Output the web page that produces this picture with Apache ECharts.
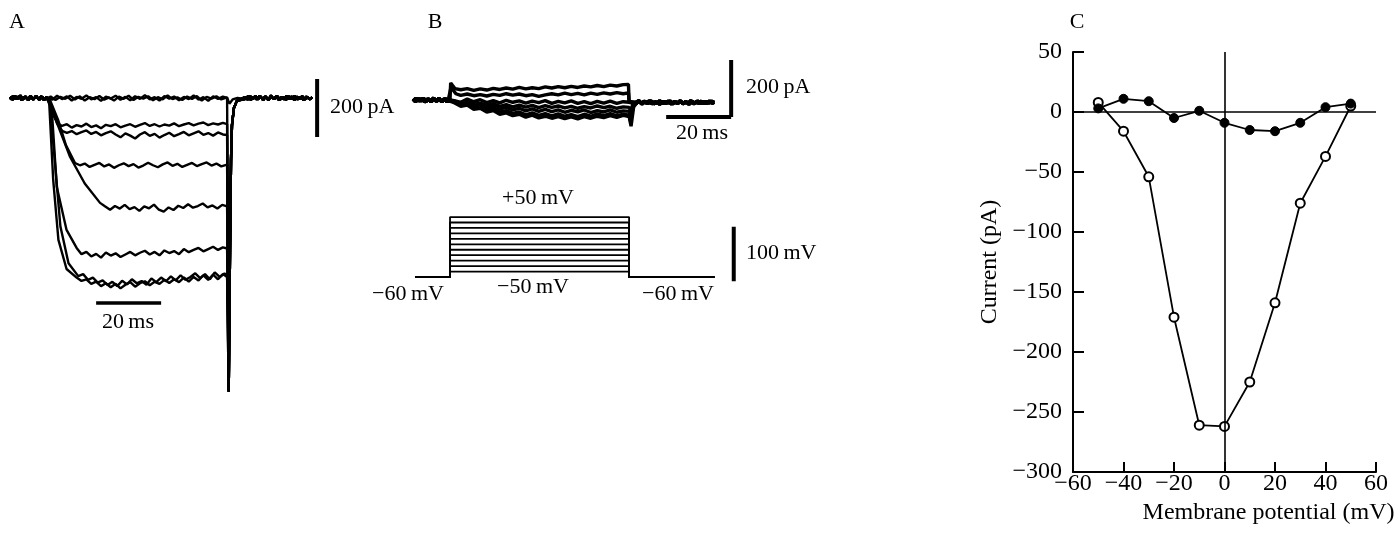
<!DOCTYPE html>
<html>
<head>
<meta charset="utf-8">
<script src="https://cdn.jsdelivr.net/npm/echarts@6/dist/echarts.min.js"></script>
<style>
html,body{margin:0;padding:0;background:#fff;}
#chart{width:1400px;height:536px;}
</style>
</head>
<body>
<div id="chart"></div>
<script>
// ---------------- DATA ----------------
// Panel C: I-V relation (membrane potential mV, current pA)
var ivPotentials = [-50, -40, -30, -20, -10, 0, 10, 20, 30, 40, 50];
var ivOpen   = [8, -16, -54, -171, -261, -262, -225, -159, -76, -37, 5];
var ivFilled = [3, 11, 9, -5, 1, -9, -15, -16, -9, 4, 7];

// Panel A: current traces [time ms, current pA]
var aBasePre1 = [[0,4],[0.8,-6],[1.6,7],[2.4,-3],[3.2,9],[4,-5],[4.8,6],[5.6,-8],[6.4,3],[7.2,-6],[8,8],[8.8,-4],[9.6,6],[10.4,-7],[11.2,3],[11.7,0]];
var aBasePre2 = [[0,-5],[0.9,7],[1.8,-4],[2.7,6],[3.6,-8],[4.5,4],[5.4,-5],[6.3,8],[7.2,-3],[8.1,6],[9,-7],[9.9,4],[10.8,-5],[11.7,0]];
var aBasePost1 = [[72.3,3],[73.1,-6],[73.9,7],[74.7,-4],[75.5,8],[76.3,-5],[77.1,6],[77.9,-8],[78.7,4],[79.5,-6],[80.3,9],[81.1,-3],[81.9,6],[82.7,-7],[83.5,4],[84.3,-5],[85.1,8],[85.9,-4],[86.7,6],[87.5,-8],[88.3,5],[89.1,-4],[89.9,7],[90.7,-6],[91.5,4],[92.3,-5],[93,3]];
var aBasePost2 = [[72.3,-4],[73.2,6],[74.1,-7],[75,4],[75.9,-5],[76.8,8],[77.7,-3],[78.6,6],[79.5,-8],[80.4,5],[81.3,-4],[82.2,7],[83.1,-6],[84,3],[84.9,-7],[85.8,6],[86.7,-3],[87.6,8],[88.5,-5],[89.4,4],[90.3,-7],[91.2,5],[92.1,-4],[93,2]];
var aTail = [[67.3,-1030],[67.7,-530],[68.0,-220],[68.3,-95],[68.9,-35],[69.8,-10]];
var aTrace1 = [[13,-6],[14.5,8],[16,-4],[17.5,6],[19,-9],[20.5,4],[22,-3],[23.5,9],[25,-5],[26.5,3],[28,-10],[29.5,5],[31,-2],[32.5,8],[34,-6],[35.5,4],[37,-8],[38.5,6],[40,-3],[41.5,10],[43,-5],[44.5,3],[46,-9],[47.5,7],[49,-2],[50.5,5],[52,-8],[53.5,4],[55,-4],[56.5,9],[58,-6],[59.5,3],[61,-10],[62.5,6],[64,-3],[65.5,5],[66.8,0]];
var aTrace2 = [[12.5,5],[14,-7],[15.5,4],[17,-3],[18.5,8],[20,-5],[21.5,6],[23,-9],[24.5,3],[26,-4],[27.5,7],[29,-6],[30.5,2],[32,-9],[33.5,5],[35,-3],[36.5,8],[38,-7],[39.5,4],[41,-2],[42.5,6],[44,-8],[45.5,3],[47,-5],[48.5,9],[50,-4],[51.5,2],[53,-7],[54.5,5],[56,-3],[57.5,7],[59,-9],[60.5,4],[62,-2],[63.5,6],[65,-5],[66.8,2],[67.5,-20],[68.5,-5],[70,0]];
var aTrace3 = [[12.5,-30],[13.3,-60],[14.8,-90],[16,-98],[17.5,-92],[19,-104],[20.5,-95],[22,-100],[23.5,-90],[25,-102],[26.5,-96],[28,-106],[29.5,-94],[31,-99],[32.5,-92],[34,-103],[35.5,-97],[37,-92],[38.5,-101],[40,-94],[41.5,-88],[43,-98],[44.5,-92],[46,-100],[47.5,-93],[49,-97],[50.5,-89],[52,-99],[53.5,-93],[55,-88],[56.5,-96],[58,-90],[59.5,-86],[61,-95],[62.5,-89],[64,-93],[65.5,-87],[66.8,-92]];
var aTrace4 = [[13,-40],[14.5,-90],[16,-115],[17.5,-122],[19,-116],[20.5,-127],[22,-120],[23.5,-114],[25,-126],[26.5,-119],[28,-131],[29.5,-123],[31,-117],[32.5,-128],[34,-138],[35.5,-124],[37,-132],[38.5,-142],[40,-128],[41.5,-120],[43,-133],[44.5,-126],[46,-139],[47.5,-130],[49,-122],[50.5,-134],[52,-127],[53.5,-119],[55,-131],[56.5,-124],[58,-117],[59.5,-129],[61,-123],[62.5,-132],[64,-121],[65.5,-128],[66.8,-130]];
var aTrace5 = [[12.3,-7],[14.8,-77],[17.2,-165],[20,-228],[21.5,-236],[23,-230],[24.5,-242],[26,-235],[27.5,-228],[29,-240],[30.5,-233],[32,-245],[33.5,-236],[35,-229],[36.5,-239],[38,-232],[39.5,-244],[41,-237],[42.5,-227],[44,-236],[45.5,-243],[47,-233],[48.5,-226],[50,-238],[51.5,-231],[53,-242],[54.5,-235],[56,-228],[57.5,-239],[59,-232],[60.5,-226],[62,-237],[63.5,-230],[65,-240],[66.8,-234]];
var aTrace6 = [[13.3,-53],[18.5,-207],[23,-300],[27.7,-368],[29.2,-380],[30.8,-392],[32.3,-379],[33.8,-388],[35.3,-375],[36.8,-390],[38.3,-383],[39.8,-396],[41.3,-380],[42.8,-387],[44.3,-374],[45.8,-392],[47.3,-399],[48.8,-384],[50.3,-393],[51.8,-378],[53.3,-386],[54.8,-373],[56.3,-385],[57.8,-379],[59.3,-370],[60.8,-384],[62.3,-377],[63.8,-388],[65.3,-375],[66.8,-380]];
var aTrace7 = [[12.8,-32],[14.4,-312],[17.4,-463],[20.5,-526],[22,-548],[23.5,-540],[25,-556],[26.5,-547],[28,-560],[29.5,-542],[31,-553],[32.5,-545],[34,-558],[35.5,-549],[37,-540],[38.5,-552],[40,-543],[41.5,-536],[43,-549],[44.5,-540],[46,-552],[47.5,-535],[49,-544],[50.5,-537],[52,-548],[53.5,-530],[55,-541],[56.5,-533],[58,-526],[59.5,-538],[61,-530],[62.5,-522],[64,-533],[65.5,-524],[66.8,-528]];
var aTrace8 = [[12.1,-25],[13.3,-288],[14.9,-498],[17.4,-600],[20.5,-630],[22,-642],[23.5,-636],[25,-652],[26.5,-644],[28,-660],[29.5,-650],[31,-664],[32.5,-652],[34,-668],[35.5,-655],[37,-646],[38.5,-662],[40,-650],[41.5,-643],[43,-657],[44.5,-645],[46,-652],[47.5,-638],[49,-649],[50.5,-636],[52,-646],[53.5,-630],[55,-644],[56.5,-628],[58,-640],[59.5,-622],[61,-638],[62.5,-620],[64,-636],[65.5,-618],[66.8,-628]];
var aTrace9 = [[12.3,-20],[14,-250],[15.5,-450],[18,-580],[21,-625],[22.5,-618],[24,-638],[25.5,-630],[27,-648],[28.5,-640],[30,-656],[31.5,-645],[33,-660],[34.5,-641],[36,-654],[37.5,-636],[39,-650],[40.5,-642],[42,-655],[43.5,-633],[45,-646],[46.5,-630],[48,-643],[49.5,-626],[51,-640],[52.5,-622],[54,-638],[55.5,-628],[57,-615],[58.5,-632],[60,-618],[61.5,-636],[63,-612],[64.5,-628],[66,-616],[66.8,-622]];
var aScaleV = [[94.5,67],[94.5,-137]];   // 200 pA
var aScaleH = [[26.5,-719],[46.5,-719]]; // 20 ms

// Panel B: current traces [time ms, current pA]
var bBasePre1 = [[0.3,3],[1.1,-6],[1.9,5],[2.7,-4],[3.5,7],[4.3,-5],[5.1,4],[5.9,-7],[6.7,5],[7.5,-3],[8.3,6],[9.1,-6],[9.9,4],[10.7,-5],[11.7,0]];
var bBasePre2 = [[0.3,-4],[1.2,6],[2.1,-3],[3,5],[3.9,-7],[4.8,4],[5.7,-4],[6.6,7],[7.5,-5],[8.4,3],[9.3,-6],[10.2,5],[11.1,-3],[11.7,0]];
var bBasePost1 = [[69,-8],[69.8,-2],[70.6,-13],[71.4,-4],[72.2,-11],[73,-3],[73.8,-14],[74.6,-6],[75.4,-12],[76.2,-2],[77,-13],[77.8,-5],[78.6,-11],[79.4,-3],[80.2,-14],[81,-6],[81.8,-12],[82.6,-3],[83.4,-13],[84.2,-5],[85,-11],[85.8,-2],[86.6,-14],[87.4,-6],[88.2,-12],[89,-4],[89.8,-13],[90.6,-5],[91.4,-11],[92.2,-4],[93,-9]];
var bBasePost2 = [[69,-12],[69.9,-4],[70.8,-14],[71.7,-6],[72.6,-12],[73.5,-3],[74.4,-13],[75.3,-7],[76.2,-15],[77.1,-5],[78,-12],[78.9,-4],[79.8,-14],[80.7,-6],[81.6,-11],[82.5,-3],[83.4,-13],[84.3,-7],[85.2,-15],[86.1,-5],[87,-12],[87.9,-4],[88.8,-13],[89.7,-6],[90.6,-12],[91.5,-4],[92.4,-11],[93,-8]];
var bTrace1 = [[11.9,60],[12.5,66],[13.2,40],[15,36],[17,40],[19,34],[21,39],[23,35],[25,41],[27,37],[29,42],[31,38],[33,44],[35,39],[37,43],[39,40],[41,46],[43,42],[45,47],[47,43],[49,48],[51,44],[53,49],[55,46],[57,51],[59,47],[61,52],[63,49],[65,54],[66.6,55],[66.8,-5]];
var bTrace2 = [[12,45],[12.6,40],[13.5,22],[15,16],[17,21],[19,15],[21,19],[23,14],[25,20],[27,16],[29,22],[31,17],[33,21],[35,15],[37,19],[39,13],[41,18],[43,22],[45,18],[47,24],[49,19],[51,23],[53,18],[55,24],[57,20],[59,25],[61,21],[63,26],[65,22],[66.6,25],[66.8,-8]];
var bTrace3 = [[13,-2],[15,-8],[17,3],[19,-6],[21,1],[23,-9],[25,-2],[27,-10],[29,-1],[31,-8],[33,-3],[35,-11],[37,-4],[39,-9],[41,-2],[43,-12],[45,-5],[47,-10],[49,-3],[51,-12],[53,-6],[55,-13],[57,-5],[59,-11],[61,-4],[63,-12],[65,-6],[66.8,-8]];
var bTrace4 = [[13,-4],[15,-10],[17,-6],[19,-15],[21,-11],[23,-19],[25,-13],[27,-22],[29,-16],[31,-24],[33,-18],[35,-25],[37,-19],[39,-27],[41,-20],[43,-26],[45,-21],[47,-28],[49,-22],[51,-29],[53,-23],[55,-28],[57,-21],[59,-27],[61,-22],[63,-29],[65,-24],[66.8,-26],[67.3,-40],[68,-12]];
var bTrace5 = [[13,-6],[15,-14],[17,-10],[19,-21],[21,-17],[23,-27],[25,-22],[27,-32],[29,-26],[31,-35],[33,-29],[35,-38],[37,-31],[39,-40],[41,-33],[43,-41],[45,-35],[47,-43],[49,-36],[51,-42],[53,-35],[55,-44],[57,-37],[59,-42],[61,-35],[63,-43],[65,-38],[66.8,-40],[67.3,-62],[68,-18]];
var bTrace6 = [[13,-8],[15,-18],[17,-14],[19,-28],[21,-24],[23,-36],[25,-31],[27,-42],[29,-37],[31,-47],[33,-42],[35,-52],[37,-45],[39,-54],[41,-48],[43,-56],[45,-49],[47,-57],[49,-51],[51,-58],[53,-50],[55,-57],[57,-49],[59,-55],[61,-48],[63,-56],[65,-50],[66.8,-53],[67.3,-78],[68,-22]];
var bTrace7 = [[13,-10],[15,-22],[17,-18],[19,-33],[21,-29],[23,-42],[25,-37],[27,-50],[29,-45],[31,-55],[33,-50],[35,-60],[37,-53],[39,-63],[41,-57],[43,-64],[45,-58],[47,-65],[49,-59],[51,-66],[53,-58],[55,-64],[57,-57],[59,-62],[61,-55],[63,-61],[65,-54],[66.8,-58],[67.4,-92],[68.2,-25]];
var bScaleV = [[98.2,140],[98.2,-60]];   // 200 pA
var bScaleH = [[78.2,-60],[98.2,-60]];   // 20 ms

// Panel B: voltage protocol
var holdingPotential = -60;
var stepPotentials = [-50, -40, -30, -20, -10, 0, 10, 20, 30, 40, 50];
var protocolTimes = [1, 11.7, 66.8, 93];   // start, step on, step off, end (ms)
var vScaleBar = [[99,32],[99,-68]];       // 100 mV

// ---------------- CHART ----------------
var FONT = 'Liberation Serif';
var chart = echarts.init(document.getElementById('chart'), null, {renderer: 'canvas'});

function trace(pre, body, post, tail) {
  var d = pre.slice().concat(body);
  if (tail) d = d.concat(tail);
  return d.concat(post);
}
function lineSeries(data, xi, yi, w) {
  return {type: 'line', xAxisIndex: xi, yAxisIndex: yi, data: data, symbol: 'none',
          animation: false, silent: true, lineStyle: {color: '#000', width: w}, z: 3};
}
function minusFmt(v) { return v < 0 ? '\u2212' + Math.abs(v) : String(v); }

var series = [];
// Panel A traces (grid 0)
[
  trace(aBasePre1, aTrace1, aBasePost1, aTail),
  trace(aBasePre2, aTrace2, aBasePost2, null),
  trace(aBasePre1, aTrace3, aBasePost2, aTail),
  trace(aBasePre2, aTrace4, aBasePost1, aTail),
  trace(aBasePre1, aTrace5, aBasePost2, aTail),
  trace(aBasePre2, aTrace6, aBasePost1, aTail),
  trace(aBasePre1, aTrace7, aBasePost2, aTail),
  trace(aBasePre2, aTrace8, aBasePost1, aTail),
  trace(aBasePre1, aTrace9, aBasePost2, aTail)
].forEach(function (d) { series.push(lineSeries(d, 0, 0, 2.4)); });
series.push(lineSeries(aScaleV, 0, 0, 4));
series.push(lineSeries(aScaleH, 0, 0, 3.5));

// Panel B current traces (grid 1)
[
  trace(bBasePre1, bTrace1, bBasePost1, null),
  trace(bBasePre2, bTrace2, bBasePost2, null),
  trace(bBasePre1, bTrace3, bBasePost2, null),
  trace(bBasePre2, bTrace4, bBasePost1, null),
  trace(bBasePre1, bTrace5, bBasePost2, null),
  trace(bBasePre2, bTrace6, bBasePost1, null),
  trace(bBasePre1, bTrace7, bBasePost2, null)
].forEach(function (d) { series.push(lineSeries(d, 1, 1, 3.4)); });
series.push(lineSeries(bScaleV, 1, 1, 4));
series.push(lineSeries(bScaleH, 1, 1, 4));

// Panel B voltage protocol (grid 2)
stepPotentials.forEach(function (v) {
  var d = [[protocolTimes[0], holdingPotential], [protocolTimes[1], holdingPotential],
           [protocolTimes[1], v], [protocolTimes[2], v],
           [protocolTimes[2], holdingPotential], [protocolTimes[3], holdingPotential]];
  series.push(lineSeries(d, 2, 2, 1.8));
});
series.push(lineSeries(vScaleBar, 2, 2, 4));

// Panel C (grid 3)
var openData = ivPotentials.map(function (x, i) { return [x, ivOpen[i]]; });
var filledData = ivPotentials.map(function (x, i) { return [x, ivFilled[i]]; });
series.push({
  type: 'line', xAxisIndex: 3, yAxisIndex: 3, data: [], silent: true, animation: false,
  markLine: {silent: true, symbol: 'none', animation: false, label: {show: false},
    lineStyle: {color: '#000', width: 1.6, type: 'solid'},
    data: [{xAxis: 0}, {yAxis: 0}]}
});
series.push({
  type: 'line', xAxisIndex: 3, yAxisIndex: 3, data: openData, animation: false, silent: true,
  symbol: 'circle', symbolSize: 9, showAllSymbol: true,
  lineStyle: {color: '#000', width: 1.8},
  itemStyle: {color: '#fff', borderColor: '#000', borderWidth: 2}, z: 4
});
series.push({
  type: 'line', xAxisIndex: 3, yAxisIndex: 3, data: filledData, animation: false, silent: true,
  symbol: 'circle', symbolSize: 9, showAllSymbol: true,
  lineStyle: {color: '#000', width: 1.8},
  itemStyle: {color: '#000', borderColor: '#000', borderWidth: 1}, z: 5
});

function hiddenAxis(gi, min, max) {
  return {type: 'value', gridIndex: gi, min: min, max: max, show: false, splitLine: {show: false}};
}
var txt = function (s, x, y, align) {
  return {type: 'text', x: x, y: y, silent: true,
    style: {text: s, fontSize: 22, fontFamily: FONT, fill: '#000',
      textAlign: align || 'center', textVerticalAlign: 'middle'}};
};

chart.setOption({
  backgroundColor: '#fff',
  animation: false,
  grid: [
    {left: 10, top: 69.5, width: 325, height: 342},
    {left: 412, top: 43, width: 325, height: 142.5},
    {left: 412, top: 189.8, width: 325, height: 109},
    {left: 1073, top: 52, width: 303, height: 420}
  ],
  xAxis: [
    hiddenAxis(0, 0, 100), hiddenAxis(1, 0, 100), hiddenAxis(2, 0, 100),
    {type: 'value', gridIndex: 3, min: -60, max: 60, interval: 20,
     name: 'Membrane potential (mV)', nameLocation: 'middle', nameGap: 16,
     nameTextStyle: {fontSize: 24, fontFamily: FONT, color: '#000', padding: [0, 0, 0, 88]},
     axisLine: {show: true, onZero: false, lineStyle: {color: '#000', width: 2}},
     axisTick: {show: true, inside: true, length: 10, lineStyle: {color: '#000', width: 2}},
     axisLabel: {fontSize: 24, fontFamily: FONT, color: '#000', margin: 0, formatter: minusFmt,
                 showMinLabel: true, showMaxLabel: true},
     splitLine: {show: false}}
  ],
  yAxis: [
    hiddenAxis(0, -1100, 100), hiddenAxis(1, -300, 200), hiddenAxis(2, -100, 100),
    {type: 'value', gridIndex: 3, min: -300, max: 50, interval: 50,
     name: 'Current (pA)', nameLocation: 'middle', nameGap: 71, nameRotate: 90,
     nameTextStyle: {fontSize: 24, fontFamily: FONT, color: '#000'},
     axisLine: {show: true, onZero: false, lineStyle: {color: '#000', width: 2}},
     axisTick: {show: true, inside: true, length: 11, lineStyle: {color: '#000', width: 2}},
     axisLabel: {fontSize: 24, fontFamily: FONT, color: '#000', margin: 11, formatter: minusFmt},
     splitLine: {show: false}}
  ],
  graphic: [
    txt('A', 17, 22), txt('B', 435, 22), txt('C', 1077, 22),
    txt('200\u2009pA', 330, 107, 'left'),
    txt('20\u2009ms', 128, 322),
    txt('200\u2009pA', 746, 87, 'left'),
    txt('20\u2009ms', 702, 133),
    txt('+50\u2009mV', 538, 198),
    txt('\u221250\u2009mV', 533, 287),
    txt('\u221260\u2009mV', 408, 294),
    txt('\u221260\u2009mV', 678, 294),
    txt('100\u2009mV', 746, 253, 'left')
  ],
  series: series
});
</script>
</body>
</html>
